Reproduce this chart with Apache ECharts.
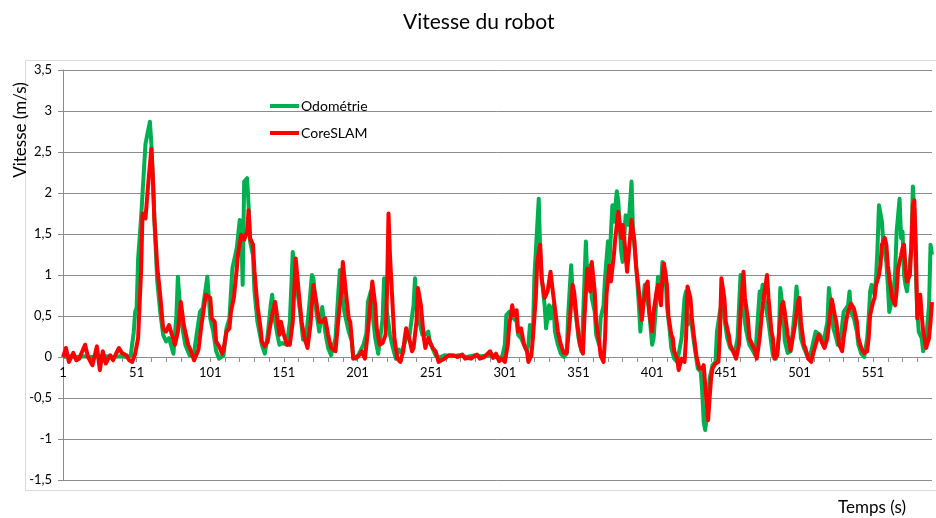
<!DOCTYPE html>
<html>
<head>
<meta charset="utf-8">
<title>Vitesse du robot</title>
<script src="https://cdn.jsdelivr.net/npm/echarts@6/dist/echarts.min.js"></script>
<style>
  html, body { margin: 0; padding: 0; background: #ffffff; }
  #chart { width: 936px; height: 518px; }
</style>
</head>
<body>
<div id="chart"></div>
<script>
// Vitesse mesurée par odométrie : [seconde, vitesse en m/s]
const odometrie = [[1,0],[5,0.01],[10,0],[15,0.01],[20,0],[25,0.01],[30,0.01],[35,0],[40,0.01],[45,0],[47,0.02],[49,0.3],[50,0.55],[51,0.6],[52,1.2],[54,1.69],[55,1.7],[57,2.6],[58,2.62],[60,2.87],[61,2.6],[62,2.2],[63,1.69],[65,0.92],[67,0.55],[69,0.27],[71,0.19],[73,0.23],[76,0.04],[78,0.51],[79,0.98],[81,0.47],[84,0.15],[87,0.02],[90,0.06],[94,0.55],[96,0.6],[99,0.98],[101,0.47],[103,0.31],[105,0.07],[107,-0.02],[110,0.02],[112,0.35],[114,0.47],[116,1.08],[119,1.33],[121,1.67],[122,1.53],[123,0.88],[124,2.14],[126,2.18],[127,1.85],[128,1.41],[130,1.24],[131,0.8],[133,0.43],[136,0.15],[138,0.04],[140,0.27],[142,0.63],[143,0.76],[145,0.43],[147,0.23],[148,0.15],[150,0.17],[153,0.15],[155,0.43],[157,1.28],[159,0.96],[162,0.55],[164,0.21],[166,0.23],[168,0.59],[170,1.0],[171,0.96],[173,0.55],[175,0.31],[177,0.61],[179,0.31],[181,0.11],[183,0.02],[186,0.23],[188,0.8],[189,1.06],[190,0.88],[192,0.55],[195,0.31],[197,0.2],[198,0.02],[200,-0.02],[202,0.04],[205,0.15],[207,0.29],[208,0.67],[210,0.8],[211,0.55],[213,0.23],[215,0.04],[216,0.02],[218,0.47],[219,0.96],[221,0.55],[223,0.27],[225,0.11],[227,-0.02],[229,0.09],[231,0.05],[232,0.06],[234,0.23],[236,0.23],[239,0.63],[240,0.96],[241,0.63],[243,0.43],[245,0.27],[247,0.27],[249,0.31],[250,0.19],[252,0.1],[254,0.02],[256,-0.01],[260,0.02],[265,0.01],[270,0.02],[275,0],[280,0.02],[285,0.01],[290,0.02],[295,0],[299,-0.01],[301,0.15],[302,0.51],[304,0.55],[305,0.57],[307,0.47],[309,0.43],[310,0.27],[312,0.23],[314,0.15],[316,0.07],[317,0.15],[318,0.39],[320,0.23],[321,0.96],[322,1.28],[324,1.93],[325,1.28],[326,0.96],[328,0.63],[329,0.35],[331,0.63],[332,0.47],[334,0.63],[335,0.31],[337,0.15],[339,0.04],[341,0],[343,0.04],[344,0.51],[346,1.12],[347,0.8],[349,0.55],[351,0.23],[353,0.07],[354,0.43],[356,1.41],[357,0.96],[359,1.12],[360,0.72],[362,0.55],[363,0.27],[365,0.15],[366,0.47],[368,0.63],[369,0.96],[371,1.41],[372,1.16],[374,1.85],[375,1.65],[377,2.02],[378,1.9],[380,1.28],[381,1.16],[383,1.73],[385,1.61],[387,2.14],[388,1.53],[390,1.16],[392,0.63],[393,0.31],[394,0.55],[396,0.88],[397,0.8],[399,0.55],[401,0.15],[402,0.23],[404,0.72],[405,0.98],[407,0.88],[408,1.16],[410,1.04],[411,0.63],[413,0.31],[414,0.11],[416,-0.02],[418,-0.06],[419,-0.04],[421,0.23],[423,0.72],[424,0.8],[425,0.39],[427,0.51],[429,0.23],[431,-0.02],[432,-0.14],[434,-0.18],[435,-0.42],[436,-0.79],[437,-0.89],[439,-0.59],[440,-0.26],[442,-0.1],[444,-0.06],[445,0.31],[447,0.55],[448,0.63],[449,0.8],[450,0.47],[452,0.23],[454,0.11],[456,0.07],[457,0.04],[459,0.23],[461,1.0],[462,0.96],[463,0.55],[465,0.31],[467,0.15],[469,0.09],[471,0.02],[472,0.27],[474,0.8],[475,0.72],[476,0.88],[478,0.63],[480,0.43],[482,0.15],[483,0.02],[485,-0.02],[487,0.23],[488,0.84],[490,0.55],[491,0.2],[493,0.05],[495,0.07],[496,0.23],[498,0.59],[499,0.86],[501,0.47],[502,0.23],[504,0.11],[505,0.07],[507,-0.02],[509,0.07],[510,0.15],[512,0.31],[513,0.33],[515,0.27],[517,0.15],[518,0.15],[520,0.43],[521,0.84],[523,0.55],[524,0.35],[526,0.23],[527,0.15],[529,0.23],[531,0.55],[532,0.55],[534,0.63],[535,0.8],[536,0.55],[538,0.47],[540,0.31],[541,0.15],[543,0.04],[545,0],[547,0.23],[548,0.47],[549,0.8],[550,0.88],[552,0.76],[553,0.96],[554,1.33],[555,1.85],[557,1.65],[558,1.37],[560,1.16],[561,0.88],[562,0.55],[564,0.72],[565,0.8],[566,1.04],[567,1.53],[569,1.93],[570,1.45],[571,1.53],[572,1.0],[573,0.88],[574,0.8],[575,0.96],[577,1.33],[578,2.08],[579,1.77],[580,1.04],[581,0.55],[582,0.31],[584,0.23],[585,0.07],[586,0.15],[587,0.23],[589,0.63],[590,1.37],[591,1.25]];

// Vitesse estimée par CoreSLAM : [seconde, vitesse en m/s]
const coreSlam = [[1,0],[3,0.11],[5,-0.06],[8,0.05],[10,-0.04],[12,-0.02],[16,0.15],[18,0],[21,-0.1],[24,0.13],[26,-0.16],[28,0.07],[30,-0.08],[33,0.02],[35,-0.04],[37,0.04],[39,0.11],[41,0.05],[44,0.02],[46,-0.04],[48,-0.06],[50,0.04],[52,0.23],[54,1.04],[55,1.75],[57,1.69],[59,2.14],[61,2.54],[62,2.2],[63,1.7],[65,1.1],[67,0.75],[69,0.35],[71,0.31],[73,0.39],[75,0.27],[77,0.15],[79,0.31],[81,0.67],[83,0.39],[86,0.15],[88,0.07],[90,-0.04],[93,0.09],[95,0.39],[98,0.76],[99,0.76],[101,0.72],[102,0.47],[104,0.43],[105,0.19],[107,0.13],[109,0.04],[110,0.09],[112,0.31],[114,0.35],[115,0.55],[117,0.72],[119,1.08],[120,1.28],[122,1.49],[124,1.43],[126,1.53],[127,1.79],[128,1.45],[130,1.37],[131,1.04],[133,0.63],[135,0.37],[136,0.19],[138,0.13],[140,0.19],[141,0.31],[143,0.51],[145,0.67],[146,0.55],[148,0.27],[149,0.43],[151,0.27],[153,0.15],[155,0.15],[157,0.43],[159,1.2],[161,0.8],[163,0.43],[165,0.23],[167,0.11],[169,0.39],[171,0.88],[173,0.67],[175,0.43],[177,0.43],[179,0.47],[181,0.27],[183,0.11],[186,0.07],[188,0.47],[190,0.8],[191,1.16],[193,0.8],[195,0.47],[196,0.43],[197,0.23],[198,-0.02],[201,0],[203,0.04],[204,0.07],[206,-0.02],[208,0.31],[210,0.72],[211,0.92],[213,0.63],[214,0.35],[216,0.15],[218,0.17],[220,0.27],[221,0.8],[222,1.75],[223,1.24],[225,0.55],[226,0.23],[228,-0.02],[230,-0.06],[232,0.07],[233,0.23],[234,0.35],[236,0.23],[238,0.07],[239,0.11],[241,0.43],[242,0.84],[244,0.63],[246,0.23],[247,0.11],[249,0.23],[251,0.15],[252,0.11],[254,0.07],[256,-0.06],[258,-0.04],[260,-0.02],[263,0.02],[266,0.02],[269,0],[272,0.03],[274,-0.02],[276,-0.01],[278,-0.02],[282,0.03],[284,-0.02],[287,0],[291,0.07],[293,-0.01],[295,0.04],[297,-0.05],[299,-0.02],[301,-0.06],[303,0.15],[304,0.39],[306,0.63],[307,0.51],[309,0.57],[310,0.31],[312,0.35],[314,0.15],[316,0.07],[317,-0.06],[319,0.02],[320,0.23],[322,0.72],[323,1.16],[325,1.37],[326,0.96],[328,0.72],[330,0.8],[332,1.04],[333,0.88],[335,0.59],[337,0.31],[339,0.15],[341,0.05],[343,0.05],[345,0.43],[347,0.88],[348,0.8],[350,0.43],[352,0.15],[354,0.04],[355,0.47],[357,1.08],[359,0.8],[360,1.16],[362,0.8],[363,0.43],[365,0.19],[366,0.02],[368,-0.06],[369,0.23],[370,0.76],[372,1.12],[373,0.92],[375,1.24],[376,1.45],[378,1.77],[380,1.45],[381,1.61],[382,1.45],[384,1.04],[386,1.45],[387,1.67],[389,1.41],[390,1.12],[392,0.8],[394,0.45],[395,0.63],[397,0.88],[398,0.92],[399,0.55],[401,0.31],[402,0.55],[404,0.8],[405,0.88],[407,0.63],[408,0.96],[409,1.14],[411,0.88],[412,0.51],[414,0.27],[415,0.23],[416,0.07],[418,-0.02],[419,-0.16],[421,-0.02],[423,-0.06],[424,0.23],[425,0.86],[427,0.72],[428,0.47],[429,0.31],[431,0.02],[433,-0.14],[435,-0.14],[436,-0.1],[437,-0.34],[439,-0.77],[440,-0.5],[441,-0.26],[442,-0.14],[444,-0.08],[446,-0.06],[447,0.27],[448,0.96],[450,0.72],[451,0.43],[453,0.27],[454,0.15],[456,0.07],[458,-0.02],[460,0.15],[461,0.55],[463,1.04],[464,0.72],[466,0.47],[467,0.23],[469,0.15],[471,0.07],[472,-0.02],[474,0.23],[476,0.63],[478,0.88],[479,1.0],[480,0.72],[482,0.31],[483,0.23],[484,-0.02],[486,0.02],[487,0.27],[489,0.63],[490,0.67],[491,0.55],[493,0.27],[495,0.08],[496,0.1],[498,0.39],[500,0.67],[501,0.72],[502,0.43],[504,0.15],[505,0.11],[507,-0.02],[509,-0.06],[510,0.02],[512,0.15],[514,0.27],[515,0.23],[517,0.15],[518,0.11],[520,0.23],[522,0.55],[523,0.7],[525,0.51],[526,0.43],[528,0.15],[530,0.07],[531,0.23],[533,0.47],[534,0.55],[536,0.65],[537,0.63],[538,0.59],[540,0.43],[541,0.23],[543,0.11],[545,0.05],[547,0.07],[548,0.23],[549,0.51],[551,0.67],[552,0.72],[553,0.88],[555,1.0],[556,1.12],[557,1.37],[559,1.45],[560,1.37],[561,1.12],[563,0.84],[564,0.72],[566,0.63],[567,0.8],[568,1.08],[570,1.24],[571,1.33],[572,1.37],[573,1.08],[574,0.92],[576,1.0],[577,1.37],[578,1.85],[579,1.91],[580,1.37],[581,0.47],[582,0.63],[583,0.76],[584,0.51],[585,0.31],[586,0.23],[587,0.11],[589,0.23],[590,0.43],[591,0.67]];

const seriesNames = ['Odométrie', 'CoreSLAM'];
const seriesColors = ['#00b050', '#ff0000'];
const lastSecond = 591;
const speedMin = -1.5;
const speedMax = 3.5;

// Seconds start at 1: the axis runs on (second - 1) and labels add 1 back.
const toAxis = pts => pts.map(([s, v]) => [s - 1, v]);

const FONT = 'Lato, "Open Sans", sans-serif';
const GRID_GREY = '#8c8c8c';

// Plot area in pixels; the time axis sits on the zero line, so a second
// grid ends exactly where speed = 0 and carries the time ticks and labels.
const PLOT = { left: 63, right: 4, top: 70, bottom: 38 };
const plotHeight = 518 - PLOT.top - PLOT.bottom;
const zeroFromBottom = PLOT.bottom + plotHeight * (0 - speedMin) / (speedMax - speedMin);

const chart = echarts.init(document.getElementById('chart'), null, { renderer: 'canvas' });

const timeAxisBase = {
  type: 'value',
  min: 0,
  max: lastSecond - 1,
  interval: 10,
  splitLine: { show: false }
};

chart.setOption({
  animation: false,
  backgroundColor: '#ffffff',
  textStyle: { fontFamily: FONT, color: '#000' },
  title: {
    text: 'Vitesse du robot',
    left: 398,
    top: 7,
    textStyle: { fontFamily: FONT, fontSize: 21, fontWeight: 'normal', color: '#000' }
  },
  legend: {
    orient: 'vertical',
    left: 265,
    top: 94,
    itemWidth: 29,
    itemHeight: 4,
    itemGap: 13,
    icon: 'rect',
    data: seriesNames,
    textStyle: { fontFamily: FONT, fontSize: 14, color: '#000', padding: [0, 0, 0, -3] }
  },
  grid: [
    { left: PLOT.left, right: PLOT.right, top: PLOT.top, bottom: PLOT.bottom, containLabel: false },
    { left: PLOT.left, right: PLOT.right, top: PLOT.top, bottom: zeroFromBottom, containLabel: false }
  ],
  xAxis: [
    Object.assign({}, timeAxisBase, {
      gridIndex: 0,
      axisLine: { show: false },
      axisTick: { show: false },
      axisLabel: { show: false }
    }),
    Object.assign({}, timeAxisBase, {
      gridIndex: 1,
      axisLine: { show: true, onZero: false, lineStyle: { color: GRID_GREY, width: 1 } },
      axisTick: { show: true, inside: false, length: 5, lineStyle: { color: GRID_GREY } },
      axisLabel: {
        margin: 9,
        fontSize: 13,
        color: '#000',
        fontFamily: FONT,
        showMaxLabel: false,
        formatter: v => (v % 50 === 0 ? String(v + 1) : '')
      }
    })
  ],
  yAxis: [
    {
      type: 'value',
      gridIndex: 0,
      min: speedMin,
      max: speedMax,
      interval: 0.5,
      axisLine: { show: true, onZero: false, lineStyle: { color: GRID_GREY, width: 1 } },
      axisTick: { show: true, inside: false, length: 5, lineStyle: { color: GRID_GREY } },
      splitLine: { show: true, lineStyle: { color: GRID_GREY, width: 1 } },
      axisLabel: {
        margin: 11,
        fontSize: 13,
        color: '#000',
        fontFamily: FONT,
        formatter: v => String(v).replace('.', ',')
      }
    },
    {
      type: 'value',
      gridIndex: 1,
      min: 0,
      max: speedMax,
      show: false
    }
  ],
  graphic: [
    {
      type: 'rect',
      z: -10,
      silent: true,
      shape: { x: 25.5, y: 60.5, width: 930, height: 430 },
      style: { fill: 'none', stroke: '#d9d9d9', lineWidth: 1 }
    },
    {
      type: 'text',
      x: 21,
      y: 130,
      rotation: Math.PI / 2,
      silent: true,
      style: {
        text: 'Vitesse (m/s)',
        fill: '#000',
        font: '17px ' + FONT,
        align: 'center',
        verticalAlign: 'middle'
      }
    },
    {
      type: 'text',
      x: 872,
      y: 508,
      silent: true,
      style: {
        text: 'Temps (s)',
        fill: '#000',
        font: '17px ' + FONT,
        align: 'center',
        verticalAlign: 'middle'
      }
    }
  ],
  series: [
    {
      name: seriesNames[0],
      type: 'line',
      xAxisIndex: 0,
      yAxisIndex: 0,
      data: toAxis(odometrie),
      showSymbol: false,
      symbol: 'none',
      color: seriesColors[0],
      lineStyle: { width: 4, color: seriesColors[0], join: 'round' },
      z: 2
    },
    {
      name: seriesNames[1],
      type: 'line',
      xAxisIndex: 0,
      yAxisIndex: 0,
      data: toAxis(coreSlam),
      showSymbol: false,
      symbol: 'none',
      color: seriesColors[1],
      lineStyle: { width: 4, color: seriesColors[1], join: 'round' },
      z: 3
    }
  ]
});
</script>
</body>
</html>
